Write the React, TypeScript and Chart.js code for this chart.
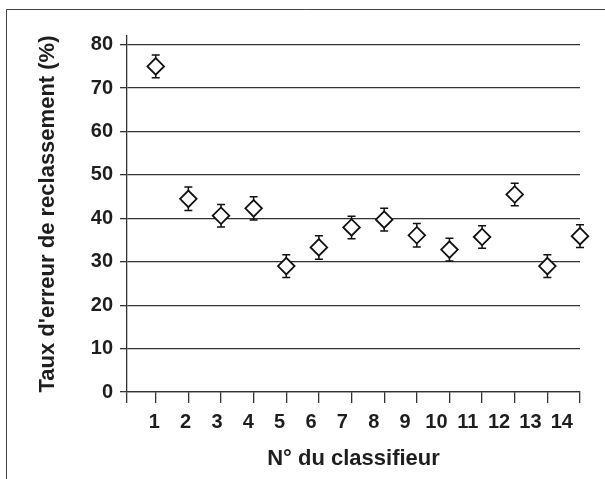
import React, { useEffect, useRef } from 'react';
import { Chart, registerables } from 'chart.js';

Chart.register(...registerables);

const categories = ['1', '2', '3', '4', '5', '6', '7', '8', '9', '10', '11', '12', '13', '14'];
const errorRates = [75, 44.5, 40.6, 42.3, 29, 33.3, 37.9, 39.7, 36.1, 32.8, 35.7, 45.5, 29, 35.9];
const errorMargins = [2.6, 2.7, 2.6, 2.7, 2.6, 2.7, 2.6, 2.6, 2.7, 2.6, 2.6, 2.6, 2.6, 2.6];
const yTicks = [0, 10, 20, 30, 40, 50, 60, 70, 80];
const yTitle = "Taux d'erreur de reclassement (%)";
const xTitle = 'N° du classifieur';

const FONT = "'Liberation Sans', Arial, Helvetica, sans-serif";
const INK = '#1e1e1e';
const LINE = '#333';

const framePlugin = {
  id: 'frame',
  beforeDraw(chart: any) {
    const { ctx, width, height } = chart;
    ctx.save();
    ctx.strokeStyle = '#444';
    ctx.lineWidth = 1;
    ctx.beginPath();
    ctx.moveTo(6.5, height);
    ctx.lineTo(6.5, 9.5);
    ctx.lineTo(width, 9.5);
    ctx.stroke();
    ctx.restore();
  },
};

const errorBarPlugin = {
  id: 'errorBars',
  beforeDatasetsDraw(chart: any) {
    const { ctx } = chart;
    const x = chart.scales.x;
    const y = chart.scales.y;
    ctx.save();
    ctx.strokeStyle = '#111';
    ctx.lineWidth = 1.5;
    errorRates.forEach((v, i) => {
      const px = x.getPixelForValue(i + 1);
      const top = y.getPixelForValue(v + errorMargins[i]);
      const bot = y.getPixelForValue(v - errorMargins[i]);
      ctx.beginPath();
      ctx.moveTo(px, top);
      ctx.lineTo(px, bot);
      ctx.moveTo(px - 4, top);
      ctx.lineTo(px + 4, top);
      ctx.moveTo(px - 4, bot);
      ctx.lineTo(px + 4, bot);
      ctx.stroke();
    });
    ctx.restore();
  },
};

export default function App() {
  const canvasRef = useRef<HTMLCanvasElement | null>(null);

  useEffect(() => {
    if (!canvasRef.current) return;
    const chart = new Chart(canvasRef.current, {
      type: 'line',
      data: {
        datasets: [
          {
            data: errorRates.map((v, i) => ({ x: i + 1, y: v })),
            showLine: false,
            clip: false,
            pointStyle: 'rectRot',
            pointRadius: 8.3,
            pointHoverRadius: 8.3,
            pointBorderWidth: 1.8,
            borderColor: '#111',
            pointBorderColor: '#111',
            pointBackgroundColor: '#fff',
            backgroundColor: '#fff',
            xAxisID: 'x',
            yAxisID: 'y',
          },
        ],
      },
      options: {
        responsive: false,
        animation: false,
        layout: { padding: { top: 36, right: 25, left: 0, bottom: 0 } },
        plugins: { legend: { display: false }, tooltip: { enabled: false } },
        scales: {
          y: {
            type: 'linear',
            position: 'left',
            min: 0,
            max: 82,
            afterBuildTicks: (s: any) => {
              s.ticks = yTicks.map((v) => ({ value: v }));
            },
            afterFit: (s: any) => {
              s.width = 127;
            },
            ticks: {
              padding: 7,
              color: INK,
              font: { family: FONT, size: 20, weight: 'bold' },
            },
            grid: { color: LINE, lineWidth: 1.3, tickLength: 7 },
            border: { display: true, color: LINE, width: 1.3 },
            title: {
              display: true,
              text: yTitle,
              color: INK,
              font: { family: FONT, size: 22, weight: 'bold' },
              padding: { top: 35, bottom: 0 },
            },
          },
          x: {
            type: 'linear',
            position: 'bottom',
            weight: 0,
            min: 0.12,
            max: 14,
            afterBuildTicks: (s: any) => {
              s.ticks = [{ value: s.min }, ...categories.map((_, i) => ({ value: i + 1 }))];
            },
            afterFit: (s: any) => {
              s.height = 11;
            },
            ticks: { display: false },
            grid: { drawOnChartArea: false, color: LINE, lineWidth: 1.3, tickLength: 11 },
            border: { display: true, color: LINE, width: 1.3 },
          },
          x2: {
            type: 'linear',
            position: 'bottom',
            weight: 1,
            min: 0.13,
            max: 14.58,
            afterBuildTicks: (s: any) => {
              s.ticks = categories.map((_, i) => ({ value: i + 1 }));
            },
            afterFit: (s: any) => {
              s.height = 76;
            },
            ticks: {
              padding: 7,
              color: INK,
              maxRotation: 0,
              autoSkip: false,
              font: { family: FONT, size: 20, weight: 'bold' },
              callback: (v: any) => categories[Math.round(Number(v)) - 1] ?? '',
            },
            grid: { display: false, drawTicks: false },
            border: { display: false },
            title: {
              display: true,
              text: xTitle,
              color: INK,
              font: { family: FONT, size: 22, weight: 'bold' },
              padding: { top: 0, bottom: 7 },
            },
          },
        },
      } as any,
      plugins: [framePlugin, errorBarPlugin],
    });
    return () => chart.destroy();
  }, []);

  return (
    <div style={{ position: 'fixed', left: 0, top: 0, width: 605, height: 479, background: '#fff' }}>
      <canvas ref={canvasRef} width={605} height={479} style={{ display: 'block', width: 605, height: 479 }} />
    </div>
  );
}
